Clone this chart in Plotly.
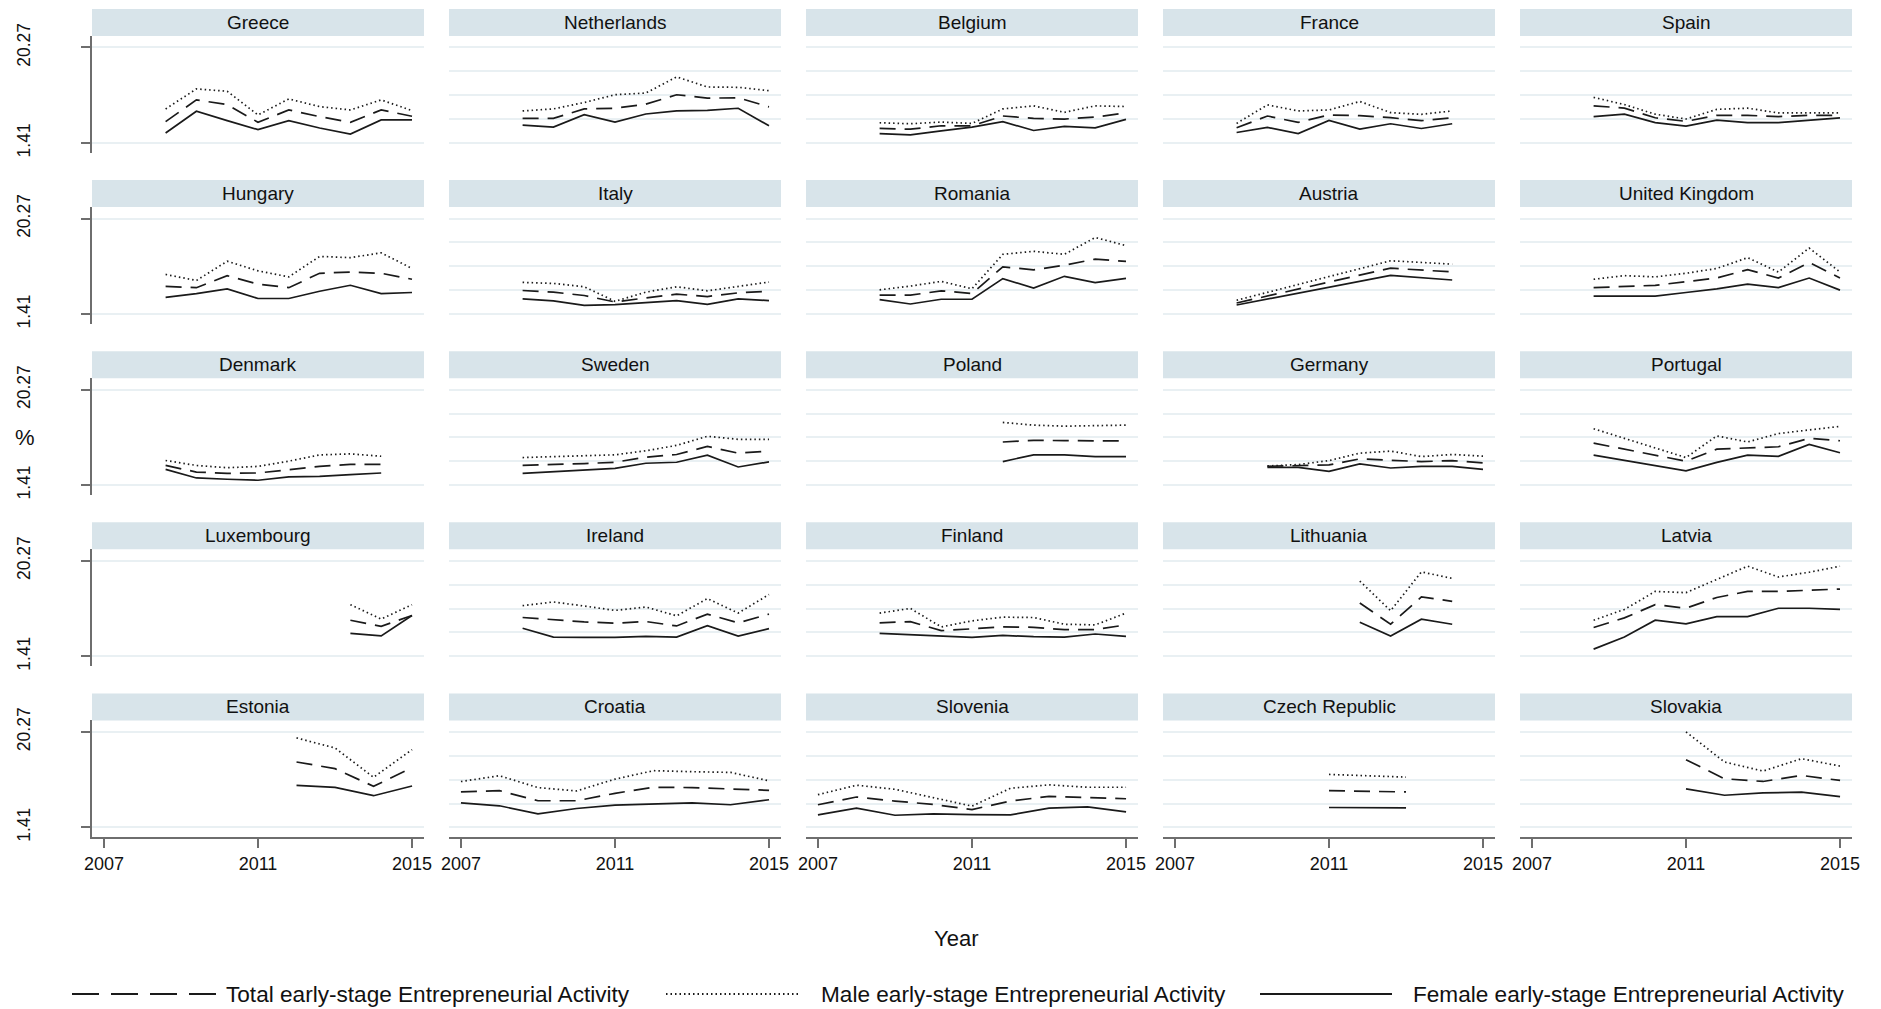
import plotly.graph_objects as go

# ---------------- data ----------------
PANEL_ORDER = [
    ["Greece", "Netherlands", "Belgium", "France", "Spain"],
    ["Hungary", "Italy", "Romania", "Austria", "United Kingdom"],
    ["Denmark", "Sweden", "Poland", "Germany", "Portugal"],
    ["Luxembourg", "Ireland", "Finland", "Lithuania", "Latvia"],
    ["Estonia", "Croatia", "Slovenia", "Czech Republic", "Slovakia"],
]

Y_TICKS = [1.41, 20.27]
Y_TICK_TEXT = ["1.41", "20.27"]
Y_GRID = [1.41, 6.125, 10.84, 15.555, 20.27]
X_TICKS = [2007, 2011, 2015]
X_TICK_TEXT = ["2007", "2011", "2015"]

ALL_YEARS = [2007, 2008, 2009, 2010, 2011, 2012, 2013, 2014, 2015]

YEARS = {
    "Greece": ALL_YEARS, "Netherlands": ALL_YEARS, "Belgium": ALL_YEARS,
    "France": [2007, 2008, 2009, 2010, 2011, 2012, 2013, 2014],
    "Spain": ALL_YEARS, "Hungary": ALL_YEARS, "Italy": ALL_YEARS,
    "Romania": ALL_YEARS, "Austria": [2007, 2012, 2014],
    "United Kingdom": ALL_YEARS,
    "Denmark": [2007, 2008, 2009, 2010, 2011, 2012, 2013, 2014],
    "Sweden": ALL_YEARS, "Poland": [2011, 2012, 2013, 2014, 2015],
    "Germany": [2008, 2009, 2010, 2011, 2012, 2013, 2014, 2015],
    "Portugal": [2007, 2010, 2011, 2012, 2013, 2014, 2015],
    "Luxembourg": [2013, 2014, 2015], "Ireland": ALL_YEARS,
    "Finland": ALL_YEARS, "Lithuania": [2011, 2012, 2013, 2014],
    "Latvia": ALL_YEARS, "Estonia": [2012, 2013, 2014, 2015],
    "Croatia": ALL_YEARS, "Slovenia": ALL_YEARS,
    "Czech Republic": [2011, 2013], "Slovakia": [2011, 2012, 2013, 2014, 2015],
}

TEA_TOTAL = {
    "Greece": [5.63, 9.92, 8.99, 5.50, 7.94, 6.62, 5.50, 7.94, 6.69],
    "Netherlands": [6.27, 6.27, 8.14, 8.27, 9.07, 10.94, 10.27, 10.34, 8.54],
    "Belgium": [4.28, 4.14, 4.81, 4.81, 6.74, 6.27, 6.14, 6.54, 7.34],
    "France": [4.41, 6.74, 5.48, 6.94, 6.81, 6.41, 5.81, 6.41],
    "Spain": [8.76, 8.29, 6.39, 5.68, 6.87, 6.87, 6.63, 6.87, 6.87],
    "Hungary": [6.87, 6.63, 9.00, 7.34, 6.63, 9.47, 9.71, 9.47, 8.29],
    "Italy": [6.07, 5.74, 5.08, 3.81, 4.61, 5.34, 4.88, 5.61, 5.94],
    "Romania": [5.14, 5.14, 6.01, 5.48, 10.74, 10.14, 11.07, 12.27, 11.81],
    "Austria": [3.61, 10.47, 9.74],
    "United Kingdom": [6.63, 6.87, 7.10, 7.81, 8.53, 10.19, 8.53, 11.61, 8.53],
    "Denmark": [5.31, 4.01, 3.75, 3.82, 4.47, 5.12, 5.51, 5.51],
    "Sweden": [5.34, 5.48, 5.68, 5.94, 6.94, 7.47, 9.07, 7.74, 8.14],
    "Poland": [9.94, 10.27, 10.21, 10.14, 10.14],
    "Germany": [5.14, 5.28, 5.41, 6.61, 6.41, 6.07, 6.27, 5.81],
    "Portugal": [9.71, 6.15, 8.53, 8.76, 9.00, 10.66, 10.19],
    "Luxembourg": [8.53, 7.34, 9.47],
    "Ireland": [9.07, 8.61, 8.21, 7.94, 8.27, 7.41, 9.74, 8.01, 9.74],
    "Finland": [8.01, 8.27, 6.47, 6.87, 7.21, 7.14, 6.67, 6.67, 7.61],
    "Lithuania": [11.94, 7.74, 13.14, 12.27],
    "Latvia": [7.10, 9.00, 11.61, 10.90, 13.03, 14.22, 14.22, 14.46, 14.69],
    "Estonia": [14.33, 13.02, 9.52, 13.21],
    "Croatia": [8.41, 8.67, 6.67, 6.67, 8.14, 9.34, 9.27, 9.07, 8.74],
    "Slovenia": [5.88, 7.41, 6.61, 5.94, 4.94, 6.61, 7.54, 7.34, 7.07],
    "Czech Republic": [8.67, 8.41],
    "Slovakia": [14.78, 11.01, 10.48, 11.67, 10.68],
}

TEA_MALE = {
    "Greece": [8.14, 12.09, 11.63, 6.95, 10.11, 8.60, 7.94, 9.92, 7.81],
    "Netherlands": [7.74, 8.14, 9.41, 10.94, 11.27, 14.47, 12.47, 12.41, 11.74],
    "Belgium": [5.41, 5.21, 5.54, 5.28, 8.14, 8.74, 7.47, 8.74, 8.61],
    "France": [5.28, 8.94, 7.74, 7.94, 9.61, 7.41, 7.07, 7.74],
    "Spain": [10.42, 9.00, 7.10, 6.15, 8.05, 8.29, 7.34, 7.34, 7.34],
    "Hungary": [9.24, 8.05, 11.85, 9.95, 8.76, 12.80, 12.56, 13.51, 10.42],
    "Italy": [7.67, 7.47, 6.81, 3.94, 5.74, 6.81, 6.01, 6.81, 7.74],
    "Romania": [6.21, 6.94, 7.87, 6.41, 13.21, 13.81, 13.21, 16.54, 14.94],
    "Austria": [4.14, 11.94, 11.27],
    "United Kingdom": [8.29, 9.00, 8.76, 9.47, 10.42, 12.56, 9.71, 14.46, 9.71],
    "Denmark": [6.29, 5.31, 4.86, 5.12, 6.16, 7.39, 7.59, 7.13],
    "Sweden": [6.87, 7.01, 7.14, 7.41, 8.21, 9.27, 11.07, 10.47, 10.47],
    "Poland": [13.81, 13.27, 13.07, 13.21, 13.27],
    "Germany": [5.21, 5.48, 6.27, 7.74, 8.14, 7.07, 7.47, 7.14],
    "Portugal": [12.56, 6.87, 11.14, 9.95, 11.61, 12.32, 13.03],
    "Luxembourg": [11.61, 8.76, 11.61],
    "Ireland": [11.41, 12.14, 11.34, 10.47, 11.14, 9.41, 12.81, 9.94, 13.61],
    "Finland": [9.94, 10.87, 7.21, 8.41, 9.14, 9.07, 7.74, 7.61, 9.94],
    "Lithuania": [16.27, 10.41, 18.07, 16.80],
    "Latvia": [8.53, 10.66, 14.22, 13.98, 16.59, 19.20, 17.07, 18.01, 19.20],
    "Estonia": [19.08, 17.10, 11.30, 16.77],
    "Croatia": [10.47, 11.61, 9.27, 8.61, 10.94, 12.61, 12.41, 12.27, 10.61],
    "Slovenia": [7.87, 9.74, 8.94, 7.27, 5.61, 9.14, 9.81, 9.34, 9.34],
    "Czech Republic": [11.87, 11.34],
    "Slovakia": [20.27, 14.32, 12.53, 14.98, 13.52],
}

TEA_FEMALE = {
    "Greece": [3.39, 7.67, 5.83, 4.05, 5.83, 4.38, 3.19, 5.96, 5.96],
    "Netherlands": [4.94, 4.54, 7.01, 5.54, 7.14, 7.74, 7.87, 8.27, 4.81],
    "Belgium": [3.28, 3.01, 3.81, 4.54, 5.61, 3.88, 4.68, 4.41, 6.07],
    "France": [3.48, 4.48, 3.28, 5.87, 4.14, 5.21, 4.28, 5.21],
    "Spain": [6.63, 7.10, 5.44, 4.73, 5.92, 5.44, 5.44, 5.92, 6.39],
    "Hungary": [4.73, 5.44, 6.39, 4.49, 4.49, 5.92, 7.10, 5.44, 5.68],
    "Italy": [4.41, 4.01, 3.14, 3.28, 3.68, 4.08, 3.34, 4.41, 4.08],
    "Romania": [4.28, 3.41, 4.34, 4.34, 8.41, 6.54, 8.87, 7.61, 8.47],
    "Austria": [3.21, 9.07, 8.14],
    "United Kingdom": [4.97, 4.97, 4.97, 5.68, 6.39, 7.34, 6.63, 8.53, 6.15],
    "Denmark": [4.53, 2.84, 2.58, 2.39, 3.04, 3.17, 3.49, 3.82],
    "Sweden": [3.74, 4.08, 4.41, 4.74, 5.74, 5.94, 7.34, 5.01, 6.01],
    "Poland": [6.07, 7.41, 7.41, 7.07, 7.07],
    "Germany": [4.94, 4.94, 4.14, 5.61, 4.81, 5.14, 5.14, 4.54],
    "Portugal": [7.34, 4.26, 5.92, 7.34, 7.10, 9.47, 7.81],
    "Luxembourg": [5.92, 5.44, 9.47],
    "Ireland": [6.94, 5.21, 5.14, 5.14, 5.34, 5.21, 7.47, 5.41, 6.87],
    "Finland": [5.94, 5.68, 5.41, 5.14, 5.54, 5.28, 5.21, 5.81, 5.34],
    "Lithuania": [8.14, 5.41, 8.74, 7.74],
    "Latvia": [2.83, 5.21, 8.53, 7.81, 9.24, 9.24, 10.90, 10.90, 10.66],
    "Estonia": [9.72, 9.32, 7.67, 9.59],
    "Croatia": [6.27, 5.68, 4.08, 5.14, 5.81, 6.01, 6.27, 5.88, 6.87],
    "Slovenia": [3.88, 5.21, 3.81, 4.08, 3.94, 3.88, 5.21, 5.48, 4.48],
    "Czech Republic": [5.34, 5.28],
    "Slovakia": [9.02, 7.76, 8.23, 8.36, 7.50],
}

SERIES = [
    ("Total early-stage Entrepreneurial Activity", TEA_TOTAL, "16px,9px"),
    ("Male early-stage Entrepreneurial Activity", TEA_MALE, "1.5px,3px"),
    ("Female early-stage Entrepreneurial Activity", TEA_FEMALE, "solid"),
]

# ---------------- layout constants (pixels) ----------------
W, H = 1881, 1009
FONT = "Liberation Sans, Arial, Helvetica, sans-serif"
LINE_COLOR = "#1a1a1a"
AXIS_COLOR = "#6e6e6e"
GRID_COLOR = "#e9f0f3"
STRIP_COLOR = "#d8e4ea"

COL_LEFT = 92
COL_STEP = 357
PANEL_W = 332
ROW_TOP = 36          # top of first plot area (under strip)
ROW_STEP = 171.1
PANEL_H = 117
STRIP_H = 27

Y_RANGE = [-0.565, 22.54]
X_RANGE_UPPER = [2004.61, 2015.39]
X_RANGE_LOWER = [2006.69, 2015.31]


def px(x):
    return x / W


def py(y):
    return 1 - y / H


fig = go.Figure()
shapes = []
annotations = []
layout_axes = {}

n = 0
for r, row in enumerate(PANEL_ORDER):
    for c, country in enumerate(row):
        n += 1
        sx = "" if n == 1 else str(n)
        x0 = COL_LEFT + COL_STEP * c
        x1 = x0 + PANEL_W
        ytop = ROW_TOP + ROW_STEP * r
        ybot = ytop + PANEL_H

        for name, src, dash in SERIES:
            fig.add_trace(go.Scatter(
                x=YEARS[country], y=src[country], mode="lines",
                name=name, showlegend=False, hoverinfo="x+y+name",
                line=dict(color=LINE_COLOR, width=1.7, dash=dash),
                xaxis="x" + sx, yaxis="y" + sx,
            ))

        bottom_row = (r == len(PANEL_ORDER) - 1)
        xa = dict(domain=[px(x0), px(x1)], anchor="y" + sx,
                  range=X_RANGE_LOWER if bottom_row else X_RANGE_UPPER,
                  showgrid=False, zeroline=False, automargin=False,
                  fixedrange=True)
        if bottom_row:
            xa.update(showline=True, linecolor=AXIS_COLOR, linewidth=2,
                      ticks="outside", ticklen=9, tickwidth=1.5,
                      tickcolor=AXIS_COLOR, tickvals=X_TICKS,
                      ticktext=X_TICK_TEXT,
                      tickfont=dict(size=18, color="#111111", family=FONT))
        else:
            xa.update(visible=False)

        ya = dict(domain=[py(ybot), py(ytop)], anchor="x" + sx,
                  range=Y_RANGE, zeroline=False, showgrid=True,
                  gridcolor=GRID_COLOR, gridwidth=1.5, automargin=False,
                  fixedrange=True)
        if c == 0:
            ya.update(tickvals=Y_TICKS, ticktext=Y_TICK_TEXT,
                      showline=True, linecolor=AXIS_COLOR, linewidth=2,
                      ticks="outside", ticklen=9, tickwidth=1.5,
                      tickcolor=AXIS_COLOR, tickangle=-90,
                      ticklabelstandoff=44,
                      tickfont=dict(size=17.5, color="#111111", family=FONT))
        else:
            ya.update(tickvals=Y_GRID, showticklabels=False, ticks="",
                      showline=False)

        layout_axes["xaxis" + sx] = xa
        layout_axes["yaxis" + sx] = ya

        # strip
        shapes.append(dict(type="rect", xref="paper", yref="paper",
                           x0=px(x0), x1=px(x1), y0=py(ytop),
                           y1=py(ytop - STRIP_H), fillcolor=STRIP_COLOR,
                           line=dict(width=0), layer="below"))
        annotations.append(dict(text=country, xref="paper", yref="paper",
                                x=px((x0 + x1) / 2), y=py(ytop - STRIP_H / 2),
                                xanchor="center", yanchor="middle",
                                showarrow=False,
                                font=dict(size=19, color="#111111",
                                          family=FONT)))

# axis titles
annotations.append(dict(text="%", xref="paper", yref="paper",
                        x=px(25), y=py(437), xanchor="center",
                        yanchor="middle", showarrow=False,
                        font=dict(size=22, color="#111111", family=FONT)))
annotations.append(dict(text="Year", xref="paper", yref="paper",
                        x=px(956), y=py(938), xanchor="center",
                        yanchor="middle", showarrow=False,
                        font=dict(size=22, color="#111111", family=FONT)))

# legend (drawn manually to match the long Stata key symbols)
LEGEND_Y = 994
legend_keys = [
    (72, 222, 224, "27px,12px"),
    (666, 800, 819, "1.5px,3px"),
    (1260, 1392, 1411, "solid"),
]
for (k0, k1, tx, dash), (name, _, _) in zip(legend_keys, SERIES):
    shapes.append(dict(type="line", xref="paper", yref="paper",
                       x0=px(k0), x1=px(k1), y0=py(LEGEND_Y),
                       y1=py(LEGEND_Y),
                       line=dict(color=LINE_COLOR, width=2.2, dash=dash)))
    annotations.append(dict(text=name, xref="paper", yref="paper",
                            x=px(tx), y=py(LEGEND_Y), xanchor="left",
                            yanchor="middle", showarrow=False,
                            font=dict(size=22.6, color="#111111",
                                      family=FONT)))

fig.update_layout(
    template="none",
    width=W, height=H,
    margin=dict(l=0, r=0, t=0, b=0, pad=0),
    paper_bgcolor="white", plot_bgcolor="white",
    font=dict(family=FONT, color="#111111"),
    showlegend=False,
    shapes=shapes, annotations=annotations,
    **layout_axes,
)

fig.write_html("out.html", include_plotlyjs=True,
               config={"displayModeBar": False},
               post_script="document.body.style.margin='0';")
